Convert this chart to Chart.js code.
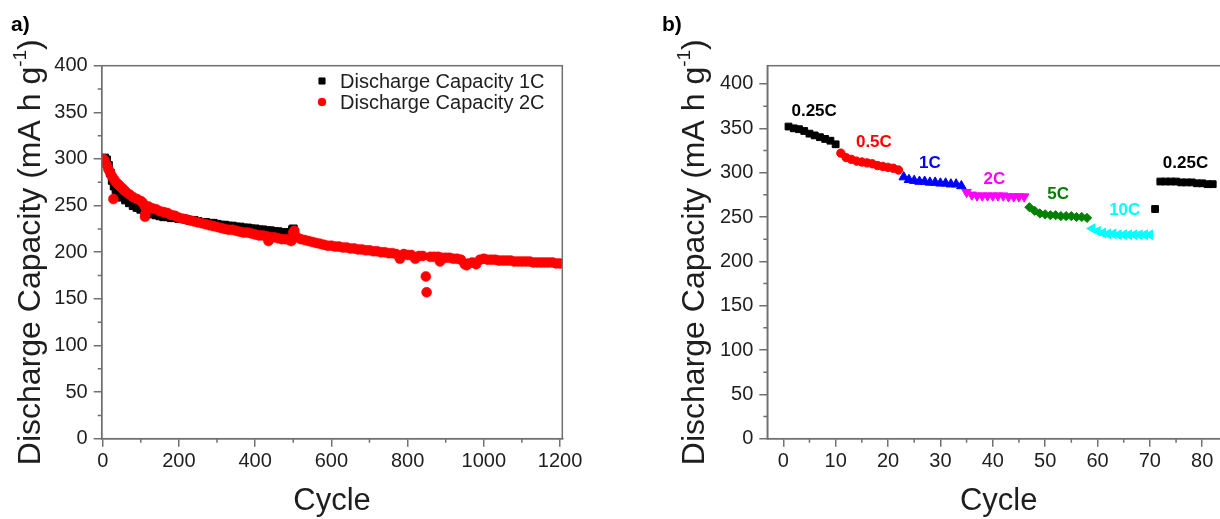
<!DOCTYPE html>
<html>
<head>
<meta charset="utf-8">
<script src="https://cdn.jsdelivr.net/npm/chart.js@4.4.1/dist/chart.umd.min.js"></script>
<style>
  html, body { margin: 0; padding: 0; background: #fff; overflow: hidden; width: 1220px; height: 519px; }
  .panel { position: absolute; top: 0; width: 600px; height: 519px; }
  #panelA { left: 0; }
  #panelB { left: 650px; }
</style>
</head>
<body>
<div class="panel" id="panelA"><canvas id="chartA" width="600" height="519"></canvas></div>
<div class="panel" id="panelB"><canvas id="chartB" width="600" height="519"></canvas></div>
<script>
// ---- panel a: long cycling at 1C and 2C ----
const cycles1C = [1, 5, 10, 15, 20, 25, 30, 35, 40, 45, 50, 60, 70, 80, 90, 100, 110, 120, 130, 140, 150,
  160, 170, 180, 190, 200, 210, 220, 230, 240, 250, 260, 270, 280, 290, 300, 310, 320, 330, 340, 350,
  360, 370, 380, 390, 400, 410, 420, 430, 440, 450, 460, 470, 480, 490, 495, 498, 500];
const cap1C = [300, 301, 299, 293, 285, 277, 271, 267, 264, 261, 259, 256, 253, 250, 248, 246, 244, 242, 241, 240, 239,
  238, 238, 237, 237, 236, 236, 235, 234, 234, 233, 232, 232, 231, 231, 230, 229, 229, 228, 228, 227,
  227, 226, 226, 225, 225, 224, 224, 223, 223, 222, 222, 221, 221, 221, 220, 224, 225];

const cycles2C = [1, 5, 10, 15, 20, 25, 28, 30, 35, 40, 45, 50, 55, 60, 70, 80, 90, 100, 105, 110, 111, 112, 115, 120,
  130, 140, 150, 160, 170, 180, 190, 200, 210, 220, 230, 240, 250, 260, 270, 280, 290, 300, 310, 320, 330,
  340, 350, 360, 370, 380, 390, 400, 410, 420, 430, 435, 440, 450, 460, 470, 480, 490, 495, 500, 503, 510,
  520, 530, 540, 550, 560, 570, 580, 590, 600, 610, 620, 630, 640, 650, 660, 670, 680, 690, 700, 710, 720,
  730, 740, 750, 760, 770, 780, 790, 800, 810, 820, 830, 840, 848, 850, 860, 870, 880, 885, 890, 900, 910,
  920, 930, 940, 950, 955, 960, 970, 980, 990, 1000, 1010, 1020, 1030, 1040, 1050, 1060, 1070, 1080, 1090,
  1100, 1110, 1120, 1130, 1140, 1150, 1160, 1170, 1180, 1190, 1200];
const cap2C = [300, 298, 294, 289, 285, 281, 257, 278, 275, 273, 271, 269, 267, 265, 262, 259, 257, 255, 253, 250, 238, 241, 246, 249,
  247, 246, 244, 243, 242, 240, 239, 237, 236, 235, 234, 233, 232, 231, 230, 229, 228, 227, 226, 225, 224,
  224, 223, 222, 221, 221, 220, 219, 218, 218, 217, 212, 216, 216, 215, 214, 214, 213, 212, 221, 223, 216,
  214, 213, 212, 211, 210, 209, 208, 207, 207, 206, 206, 205, 205, 204, 204, 203, 203, 202, 202, 201, 201,
  200, 200, 199, 199, 198, 193, 198, 197, 197, 193, 196, 196, 174, 157, 195, 195, 195, 190, 194, 194, 194,
  193, 193, 192, 187, 186, 188, 189, 187, 192, 193, 192, 192, 192, 191, 191, 191, 191, 190, 190,
  190, 190, 190, 189, 189, 189, 189, 189, 189, 188, 188];

const aTicksX = [0, 200, 400, 600, 800, 1000, 1200];
const aMinorX = [100, 300, 500, 700, 900, 1100];
const aTicksY = [0, 50, 100, 150, 200, 250, 300, 350, 400];
const aMinorY = [25, 75, 125, 175, 225, 275, 325, 375];

// ---- panel b: rate capability ----
const cyc025a = [1, 2, 3, 4, 5, 6, 7, 8, 9, 10];
const cap025a = [352, 350, 349, 347, 344, 342, 340, 338, 336, 332];
const cyc05 = [11, 12, 13, 14, 15, 16, 17, 18, 19, 20, 21, 22];
const cap05 = [322, 317, 315, 313, 312, 311, 310, 308, 307, 306, 305, 303];
const cyc1 = [23, 24, 25, 26, 27, 28, 29, 30, 31, 32, 33, 34];
const cap1 = [295, 292, 291, 290, 290, 289, 289, 288, 288, 287, 287, 285];
const cyc2 = [35, 36, 37, 38, 39, 40, 41, 42, 43, 44, 45, 46];
const cap2 = [278, 275, 274, 274, 274, 274, 274, 274, 273, 273, 273, 273];
const cyc5 = [47, 48, 49, 50, 51, 52, 53, 54, 55, 56, 57, 58];
const cap5 = [261, 257, 254, 253, 252, 252, 251, 251, 251, 250, 250, 249];
const cyc10 = [59, 60, 61, 62, 63, 64, 65, 66, 67, 68, 69, 70];
const cap10 = [237, 234, 232, 231, 231, 230, 230, 230, 230, 230, 230, 230];
const cyc025b = [71, 72, 73, 74, 75, 76, 77, 78, 79, 80, 81, 82];
const cap025b = [259, 290, 290, 290, 290, 289, 289, 289, 288, 288, 287, 287];

const rateNames = ['0.25C', '0.5C', '1C', '2C', '5C', '10C', '0.25C'];
const rateColors = ['#000000', '#ff0000', '#0000ff', '#ff00ff', '#008000', '#00ffff', '#000000'];
const rateX = [5.9, 17.3, 28, 40.3, 52.5, 65.2, 76.8];
const rateY = [369, 334, 310, 293, 276, 258, 311];

const bTicksX = [0, 10, 20, 30, 40, 50, 60, 70, 80];
const bMinorX = [5, 15, 25, 35, 45, 55, 65, 75, 85];
const bTicksY = [0, 50, 100, 150, 200, 250, 300, 350, 400];
const bMinorY = [25, 75, 125, 175, 225, 275, 325, 375];

const FONT = "'Liberation Sans', Arial, sans-serif";
const AXIS_GRAY = '#707070';
const TEXT = '#1e1e1e';

function pts(xs, ys) {
  return xs.map((x, i) => ({ x: x, y: ys[i] }));
}

// frame, minor ticks, axis titles and the other bits Chart.js has no option for
const decor = {
  id: 'decor',
  afterDraw(chart, args, o) {
    const ctx = chart.ctx;
    const a = chart.chartArea;
    const sx = chart.scales.x, sy = chart.scales.y;
    ctx.save();

    ctx.strokeStyle = AXIS_GRAY;
    ctx.lineWidth = 1.5;
    ctx.strokeRect(a.left, a.top, a.right - a.left, a.bottom - a.top);

    ctx.beginPath();
    o.minorX.forEach(v => {
      const px = sx.getPixelForValue(v);
      if (px < a.left || px > a.right) return;
      ctx.moveTo(px, a.bottom);
      ctx.lineTo(px, a.bottom + 4);
    });
    o.minorY.forEach(v => {
      const py = sy.getPixelForValue(v);
      if (py < a.top || py > a.bottom) return;
      ctx.moveTo(a.left, py);
      ctx.lineTo(a.left - 4, py);
    });
    ctx.stroke();

    // panel letter
    ctx.fillStyle = '#000';
    ctx.font = 'bold 21px ' + FONT;
    ctx.textAlign = 'left';
    ctx.textBaseline = 'alphabetic';
    ctx.fillText(o.letter, o.letterX, 31);

    // x title
    ctx.fillStyle = TEXT;
    ctx.font = '31px ' + FONT;
    ctx.textAlign = 'center';
    ctx.fillText('Cycle', (a.left + a.right) / 2, 510);

    // y title with superscript
    const main = 'Discharge Capacity (mA h g';
    const sup = '-1';
    const tail = ')';
    ctx.font = '32px ' + FONT;
    const wMain = ctx.measureText(main).width;
    const wTail = ctx.measureText(tail).width;
    ctx.font = '19px ' + FONT;
    const wSup = ctx.measureText(sup).width;
    const total = wMain + wSup + wTail;
    ctx.translate(o.yTitleX, (a.top + a.bottom) / 2);
    ctx.rotate(-Math.PI / 2);
    ctx.textAlign = 'left';
    let cx = -total / 2;
    ctx.font = '32px ' + FONT;
    ctx.fillText(main, cx, 0);
    cx += wMain;
    ctx.font = '19px ' + FONT;
    ctx.fillText(sup, cx, -14);
    cx += wSup;
    ctx.font = '32px ' + FONT;
    ctx.fillText(tail, cx, 0);
    ctx.setTransform(1, 0, 0, 1, 0, 0);

    // legend inside the plot
    if (o.legend) {
      ctx.font = '20px ' + FONT;
      ctx.textAlign = 'left';
      ctx.textBaseline = 'middle';
      o.legend.forEach(row => {
        const ds = chart.data.datasets[row.index];
        ctx.fillStyle = ds.backgroundColor;
        ctx.strokeStyle = ds.borderColor;
        ctx.lineWidth = ds.borderWidth;
        Chart.helpers.drawPoint(ctx, {
          pointStyle: ds.pointStyle, rotation: ds.rotation || 0,
          radius: row.r, borderWidth: ds.borderWidth
        }, row.x, row.y);
        ctx.fillStyle = TEXT;
        ctx.fillText(ds.label, row.x + 18, row.y + 1);
      });
    }

    // rate annotations at data coordinates
    if (o.rates) {
      ctx.font = 'bold 17px ' + FONT;
      ctx.textAlign = 'center';
      ctx.textBaseline = 'middle';
      rateNames.forEach((name, i) => {
        ctx.fillStyle = rateColors[i];
        ctx.fillText(name, sx.getPixelForValue(rateX[i]), sy.getPixelForValue(rateY[i]));
      });
    }
    ctx.restore();
  }
};

function axes(xMin, xMax, xTicks, yMax, yTicks, yWidth, xHeight) {
  const common = {
    type: 'linear',
    grid: { drawOnChartArea: false, drawTicks: true, tickLength: 8, color: AXIS_GRAY, lineWidth: 1.5 },
    border: { display: true, color: AXIS_GRAY, width: 1.5 },
    ticks: { color: TEXT, font: { family: FONT, size: 20 }, callback: v => String(v) }
  };
  return {
    x: Object.assign({}, common, {
      min: xMin, max: xMax,
      ticks: Object.assign({}, common.ticks, { padding: 3, maxRotation: 0 }),
      afterBuildTicks: s => { s.ticks = xTicks.map(v => ({ value: v })); },
      afterFit: s => { s.height = xHeight; }
    }),
    y: Object.assign({}, common, {
      min: 0, max: yMax,
      ticks: Object.assign({}, common.ticks, { padding: 6 }),
      afterBuildTicks: s => { s.ticks = yTicks.map(v => ({ value: v })); },
      afterFit: s => { s.width = yWidth; }
    })
  };
}

const baseOpts = {
  responsive: false,
  animation: false,
  events: [],
  plugins: { legend: { display: false }, tooltip: { enabled: false } }
};

// panel a
new Chart(document.getElementById('chartA'), {
  type: 'scatter',
  data: {
    datasets: [
      {
        label: 'Discharge Capacity 1C', data: pts(cycles1C, cap1C), order: 1,
        pointStyle: 'rect', pointRadius: 5.5, backgroundColor: '#000', borderColor: '#000', borderWidth: 1
      },
      {
        label: 'Discharge Capacity 2C', data: pts(cycles2C, cap2C), order: 0,
        pointStyle: 'circle', pointRadius: 5, backgroundColor: '#ff0000', borderColor: '#ff0000', borderWidth: 0.5
      }
    ]
  },
  options: Object.assign({}, baseOpts, {
    layout: { padding: { left: 0, right: 37.7, top: 65.7, bottom: 0 } },
    scales: axes(-2.6, 1206, aTicksX, 400, aTicksY, 101.7, 80.3),
    plugins: Object.assign({}, baseOpts.plugins, {
      decor: {
        letter: 'a)', letterX: 11, yTitleX: 40,
        minorX: aMinorX, minorY: aMinorY,
        legend: [{ index: 0, x: 322, y: 81, r: 4.3 }, { index: 1, x: 322, y: 102, r: 4 }]
      }
    })
  }),
  plugins: [decor]
});

// panel b
const bSets = [
  { d: pts(cyc025a, cap025a), c: '#000000', s: 'rect', r: 4.8, rot: 0 },
  { d: pts(cyc05, cap05), c: '#ff0000', s: 'circle', r: 4.2, rot: 0 },
  { d: pts(cyc1, cap1), c: '#0000ff', s: 'triangle', r: 5.5, rot: 0 },
  { d: pts(cyc2, cap2), c: '#ff00ff', s: 'triangle', r: 5.5, rot: 180 },
  { d: pts(cyc5, cap5), c: '#008000', s: 'rectRot', r: 4.6, rot: 0 },
  { d: pts(cyc10, cap10), c: '#00ffff', s: 'triangle', r: 5.5, rot: 270 },
  { d: pts(cyc025b, cap025b), c: '#000000', s: 'rect', r: 4.8, rot: 0 }
];

new Chart(document.getElementById('chartB'), {
  type: 'scatter',
  data: {
    datasets: bSets.map(b => ({
      data: b.d, pointStyle: b.s, pointRadius: b.r, rotation: b.rot,
      backgroundColor: b.c, borderColor: b.c, borderWidth: 1
    }))
  },
  options: Object.assign({}, baseOpts, {
    layout: { padding: { left: 0, right: 20, top: 65.7, bottom: 0 } },
    scales: axes(-3.05, 85.3, bTicksX, 420.6, bTicksY, 117.3, 80.3),
    plugins: Object.assign({}, baseOpts.plugins, {
      decor: {
        letter: 'b)', letterX: 12, yTitleX: 54,
        minorX: bMinorX, minorY: bMinorY, rates: true
      }
    })
  }),
  plugins: [decor]
});
</script>
</body>
</html>
